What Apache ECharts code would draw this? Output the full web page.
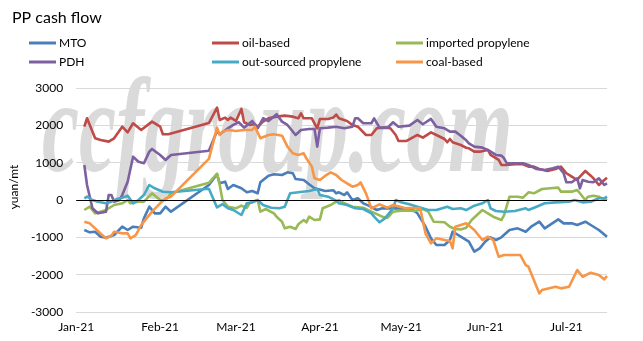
<!DOCTYPE html>
<html>
<head>
<meta charset="utf-8">
<script src="https://cdn.jsdelivr.net/npm/echarts@6/dist/echarts.min.js"></script>
<style>
  html, body { margin: 0; padding: 0; background: #fff; }
  #chart { width: 643px; height: 341px; }
</style>
</head>
<body>
<div id="chart"></div>
<script>
// PP cash flow by production route, yuan/mt, 2021 (month-day, value)
const seriesNames = ['MTO', 'oil-based', 'imported propylene', 'PDH', 'out-sourced propylene', 'coal-based'];
const yTicks = [-3000, -2000, -1000, 0, 1000, 2000, 3000];

const mto = [
  ['01-04',-804],['01-06',-866],['01-08',-849],['01-10',-983],['01-12',-1010],['01-15',-938],['01-18',-715],
  ['01-20',-804],['01-22',-715],['01-25',-742],['01-26',-491],['01-28',-179],['01-30',-357],['02-01',-357],
  ['02-03',-179],['02-05',-313],['02-19',402],['02-22',688],['02-23',447],['02-25',491],['02-26',295],
  ['02-28',402],['03-03',313],['03-05',206],['03-07',241],['03-09',179],['03-10',474],['03-13',652],
  ['03-15',688],['03-18',670],['03-20',742],['03-22',715],['03-23',563],['03-26',536],['03-28',421],
  ['03-30',313],['04-03',241],['04-06',260],['04-07',179],['04-08',206],['04-10',134],['04-11',206],
  ['04-13',0],['04-15',45],['04-17',-89],['04-19',-152],['04-22',-268],['04-24',-223],['04-29',-223],
  ['05-05',-250],['05-07',-357],['05-10',-715],['05-12',-1027],['05-14',-1206],['05-17',-1206],['05-19',-1072],
  ['05-20',-849],['05-23',-983],['05-26',-1117],['05-28',-1385],['05-30',-1295],['06-01',-1117],['06-03',-1000],
  ['06-05',-1072],['06-07',-1000],['06-10',-804],['06-13',-759],['06-16',-849],['06-18',-715],['06-21',-581],
  ['06-23',-759],['06-28',-518],['06-30',-625],['07-03',-625],['07-05',-670],['07-08',-581],['07-10',-670],
  ['07-13',-804],['07-16',-983]
];

const oilBased = [
  ['01-04',1964],['01-05',2190],['01-08',1653],['01-10',1608],['01-13',1563],['01-15',1653],['01-18',1964],
  ['01-20',1813],['01-22',2055],['01-25',1876],['01-29',2099],['02-01',1964],['02-02',1760],['02-04',1760],
  ['02-19',2060],['02-22',2474],['02-23',2144],['02-25',2206],['02-26',2144],['02-27',2206],['03-01',2117],
  ['03-03',2439],['03-04',2082],['03-06',2010],['03-08',2028],['03-09',1964],['03-11',2099],['03-13',2189],
  ['03-16',2233],['03-19',2260],['03-22',2233],['03-24',2189],['03-25',2323],['03-26',2189],['03-29',2189],
  ['03-31',1921],['04-01',2171],['04-04',2171],['04-06',2210],['04-07',2290],['04-08',2189],['04-11',2117],
  ['04-13',2010],['04-15',1964],['04-18',1742],['04-20',1742],['04-22',1921],['04-25',1938],['04-27',1921],
  ['04-29',1742],['04-30',1581],['05-03',1581],['05-07',1742],['05-09',1670],['05-12',1813],['05-14',1742],
  ['05-17',1635],['05-18',1546],['05-19',1635],['05-20',1546],['05-23',1474],['05-25',1400],['05-26',1385],
  ['05-28',1295],['05-30',1295],['06-02',1340],['06-03',1206],['06-06',1072],['06-07',938],['06-09',938],
  ['06-12',957],['06-15',957],['06-17',893],['06-19',893],['06-21',831],['06-24',777],['06-27',831],
  ['06-29',893],['07-01',716],['07-03',625],['07-05',536],['07-06',625],['07-08',777],['07-10',652],
  ['07-11',581],['07-13',402],['07-15',536],['07-16',598]
];

const importedPropylene = [
  ['01-04',-268],['01-06',-179],['01-08',-357],['01-10',-313],['01-12',-268],['01-15',-134],['01-18',-89],
  ['01-20',0],['01-21',-89],['01-24',-45],['01-26',-45],['01-29',179],['02-01',0],['02-03',0],['02-05',179],
  ['02-19',460],['02-22',706],['02-23',402],['02-24',0],['02-26',-179],['03-01',-223],['03-03',-152],
  ['03-05',-210],['03-06',-89],['03-09',0],['03-10',-313],['03-12',-241],['03-15',-357],['03-16',-447],
  ['03-18',-581],['03-19',-759],['03-21',-715],['03-23',-777],['03-24',-652],['03-26',-536],['03-27',-598],
  ['03-28',-447],['03-30',-536],['04-01',-520],['04-02',-223],['04-05',-134],['04-07',-45],['04-08',0],
  ['04-10',-89],['04-13',-179],['04-17',-206],['04-20',-313],['04-24',-447],['04-26',-473],['04-28',-313],
  ['04-30',-295],['05-03',-277],['05-06',-295],['05-09',-241],['05-11',-313],['05-13',-581],['05-17',-598],
  ['05-19',-715],['05-21',-777],['05-23',-790],['05-25',-742],['05-27',-536],['05-29',-402],['05-31',-268],
  ['06-02',-357],['06-04',-447],['06-07',-536],['06-08',-402],['06-10',89],['06-13',89],['06-15',63],
  ['06-17',206],['06-19',179],['06-22',295],['06-25',313],['06-28',331],['06-29',223],['07-03',223],
  ['07-05',268],['07-08',0],['07-09',89],['07-11',116],['07-13',89],['07-15',0],['07-16',45]
];

const pdh = [
  ['01-04',938],['01-05',402],['01-07',-223],['01-09',-357],['01-12',-313],['01-13',134],['01-14',134],
  ['01-15',-45],['01-17',0],['01-18',134],['01-20',491],['01-22',1160],['01-24',1026],['01-26',983],
  ['01-28',1295],['01-29',1367],['02-01',1206],['02-03',1072],['02-05',1206],['02-19',1320],['02-22',1850],
  ['02-23',1760],['02-26',1921],['02-28',2010],['03-02',2082],['03-04',1938],['03-07',2117],['03-09',1921],
  ['03-11',2189],['03-13',2117],['03-16',2297],['03-18',2099],['03-20',2010],['03-21',1921],['03-23',1742],
  ['03-25',1876],['03-28',1903],['03-30',1903],['03-31',1429],['04-01',1921],['04-04',1938],['04-07',1964],
  ['04-10',1921],['04-13',1964],['04-14',2189],['04-15',2189],['04-17',2055],['04-20',2055],['04-21',2189],
  ['04-23',1938],['04-26',1938],['04-28',2082],['04-30',1964],['05-04',1991],['05-07',2144],['05-09',2028],
  ['05-12',2171],['05-14',1964],['05-17',1921],['05-19',1831],['05-21',1831],['05-23',1723],['05-25',1600],
  ['05-26',1519],['05-28',1429],['05-31',1402],['06-02',1340],['06-05',1206],['06-07',1188],['06-08',1117],
  ['06-09',983],['06-15',983],['06-17',938],['06-20',831],['06-23',804],['06-26',849],['06-28',893],
  ['06-30',716],['07-01',474],['07-03',474],['07-05',581],['07-06',313],['07-07',536],['07-09',491],
  ['07-11',474],['07-13',581],['07-15',402],['07-16',447]
];

const outsourcedPropylene = [
  ['01-04',45],['01-05',89],['01-07',0],['01-09',-45],['01-12',-89],['01-14',-45],['01-16',27],['01-18',63],
  ['01-20',116],['01-22',-89],['01-24',0],['01-26',134],['01-28',402],['01-30',313],['02-02',223],['02-05',206],
  ['02-19',300],['02-22',-200],['02-24',-110],['02-26',-223],['02-28',-268],['03-03',-402],['03-05',-89],
  ['03-07',-63],['03-09',0],['03-11',-134],['03-14',-206],['03-17',-223],['03-19',-179],['03-21',179],
  ['03-24',206],['03-28',241],['03-31',295],['04-01',134],['04-04',89],['04-07',-20],['04-08',-89],
  ['04-11',-134],['04-14',-223],['04-17',-241],['04-20',-357],['04-21',-447],['04-23',-598],['04-25',-491],
  ['04-28',-223],['04-29',0],['05-01',-63],['05-04',-116],['05-07',-179],['05-11',-268],['05-14',-268],
  ['05-18',-179],['05-20',-241],['05-23',-223],['05-25',-270],['05-28',-152],['05-31',-89],['06-02',0],
  ['06-03',-223],['06-05',-295],['06-08',-313],['06-12',-295],['06-16',-223],['06-17',-268],['06-20',-179],
  ['06-23',-89],['06-27',-63],['07-02',-45],['07-04',0],['07-07',-63],['07-10',-45],['07-13',45],
  ['07-15',45],['07-16',89]
];

const coalBased = [
  ['01-04',-581],['01-06',-625],['01-08',-759],['01-10',-893],['01-12',-1027],['01-14',-956],['01-15',-849],
  ['01-18',-893],['01-20',-893],['01-21',-1027],['01-23',-938],['01-25',-670],['01-26',-581],['01-29',-313],
  ['02-01',-89],['02-03',45],['02-05',89],['02-19',1100],['02-22',1938],['02-23',1742],['02-24',1831],
  ['02-26',1876],['03-01',1849],['03-04',1876],['03-07',1876],['03-08',1964],['03-10',1653],['03-13',1742],
  ['03-15',1760],['03-18',1723],['03-20',1429],['03-22',1251],['03-24',1206],['03-26',1251],['03-27',1117],
  ['03-29',893],['03-30',581],['04-01',536],['04-03',652],['04-05',740],['04-07',670],['04-09',536],
  ['04-11',447],['04-13',357],['04-15',402],['04-16',474],['04-18',179],['04-20',-223],['04-23',-116],
  ['04-26',-206],['04-28',-134],['05-02',-206],['05-08',-223],['05-10',-900],['05-12',-1161],['05-14',-1027],
  ['05-17',-1072],['05-19',-1100],['05-20',-1295],['05-21',-715],['05-23',-670],['05-25',-625],['05-28',-804],
  ['05-31',-1072],['06-02',-983],['06-04',-1072],['06-06',-1518],['06-08',-1474],['06-14',-1474],['06-16',-1742],
  ['06-17',-1786],['06-19',-2144],['06-21',-2501],['06-22',-2412],['06-27',-2323],['06-29',-2367],['07-02',-2323],
  ['07-05',-1876],['07-07',-2055],['07-10',-1947],['07-13',-2010],['07-15',-2126],['07-16',-2037]
];

const seriesValues = [mto, oilBased, importedPropylene, pdh, outsourcedPropylene, coalBased];
const seriesColors = ['#4a7ebb', '#be4b48', '#98b954', '#7d60a0', '#46aac5', '#f79646'];
const legendSlots = [[29, 37], [212, 37], [396, 37], [29, 56], [212, 56], [396, 56]];

const FONT = 'Lato, "Open Sans", sans-serif';
const toPoints = arr => arr.map(p => ['2021-' + p[0], p[1]]);

const chart = echarts.init(document.getElementById('chart'), null, { renderer: 'canvas' });

const lineSeries = seriesNames.map((name, i) => ({
  name,
  type: 'line',
  data: toPoints(seriesValues[i]),
  showSymbol: false,
  symbol: 'none',
  connectNulls: true,
  z: 3,
  lineStyle: { color: seriesColors[i], width: 2.6, join: 'round' },
  itemStyle: { color: seriesColors[i] },
  emphasis: { disabled: true }
}));

// zero reference line, drawn beneath the data lines
const zeroLine = {
  name: 'zero',
  type: 'line',
  data: [],
  z: 1,
  silent: true,
  markLine: {
    silent: true,
    symbol: 'none',
    label: { show: false },
    lineStyle: { color: '#000', width: 1, type: 'solid' },
    emphasis: { disabled: true },
    data: [{ yAxis: 0 }]
  }
};

const option = {
  animation: false,
  backgroundColor: '#fff',
  title: {
    text: 'PP cash flow',
    left: 7,
    top: 5,
    textStyle: { fontFamily: FONT, fontSize: 16, fontWeight: 'normal', color: '#000' }
  },
  legend: seriesNames.map((name, i) => ({
    data: [name],
    left: legendSlots[i][0],
    top: legendSlots[i][1],
    padding: 0,
    icon: 'rect',
    itemWidth: 27,
    itemHeight: 3,
    itemGap: 0,
    selectedMode: false,
    textStyle: { fontFamily: FONT, fontSize: 12, color: '#000', padding: [0, 0, 0, -2] }
  })),
  graphic: [{
    type: 'text',
    x: 42,
    y: 137,
    scaleX: 1.16,
    scaleY: 1.85,
    z: -10,
    silent: true,
    style: {
      text: 'ccfgroup.com',
      font: 'italic bold 72px "Liberation Serif", "DejaVu Serif", serif',
      fill: '#dadada',
      align: 'left',
      verticalAlign: 'middle'
    }
  }],
  grid: { left: 72, right: 36, top: 88, bottom: 29, containLabel: false },
  xAxis: {
    type: 'time',
    min: '2021-01-01',
    max: '2021-07-16',
    splitNumber: 7,
    axisLine: { show: false },
    axisTick: { show: false },
    splitLine: { show: false },
    axisLabel: {
      formatter: '{MMM}-{yy}',
      fontFamily: FONT,
      fontSize: 12,
      color: '#000',
      margin: 9,
      hideOverlap: false
    }
  },
  yAxis: {
    type: 'value',
    min: yTicks[0],
    max: yTicks[yTicks.length - 1],
    interval: 1000,
    name: 'yuan/mt',
    nameLocation: 'middle',
    nameGap: 52,
    nameTextStyle: { fontFamily: FONT, fontSize: 12, color: '#000', padding: [0, 0, 0, 26] },
    axisLine: { show: false },
    axisTick: { show: false },
    axisLabel: {
      fontFamily: FONT, fontSize: 12, color: '#000', margin: 13,
      formatter: v => String(v)
    },
    splitLine: { lineStyle: { color: '#d9d9d9', width: 1 } }
  },
  series: [zeroLine].concat(lineSeries)
};

chart.setOption(option);
</script>
</body>
</html>
